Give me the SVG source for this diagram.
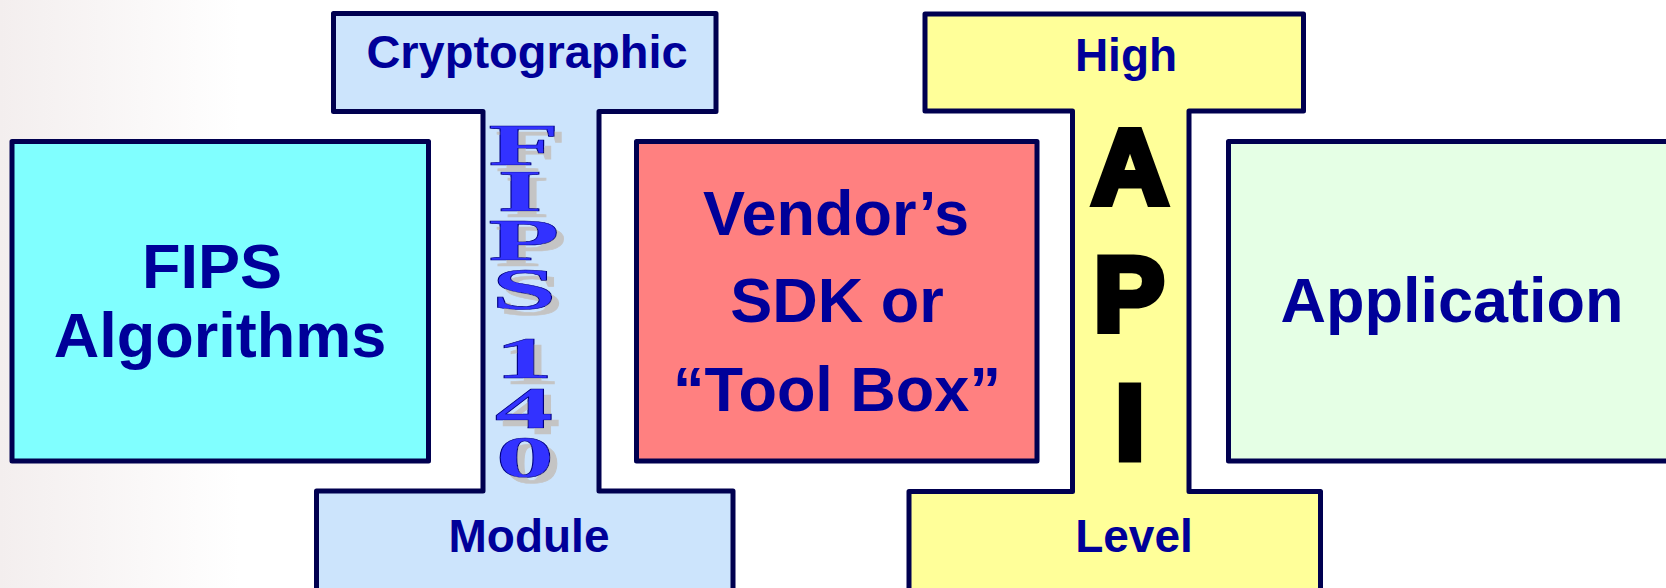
<svg xmlns="http://www.w3.org/2000/svg" width="1666" height="588" viewBox="0 0 1666 588">
<defs>
<linearGradient id="bg" x1="0" y1="0" x2="1" y2="0">
<stop offset="0" stop-color="#F3EEEE"/>
<stop offset="1" stop-color="#FFFFFF"/>
</linearGradient>
<filter id="shadow" x="-20%" y="-10%" width="160%" height="130%">
<feFlood flood-color="#C4C4C4" result="c"/>
<feComposite in="c" in2="SourceAlpha" operator="in" result="s"/>
<feOffset in="s" dx="3.6" dy="6" result="o"/>
<feMerge><feMergeNode in="o"/><feMergeNode in="SourceGraphic"/></feMerge>
</filter>
<style>
.frame{stroke:#000050;stroke-width:5;stroke-linejoin:round}
.lbl{font-family:"Liberation Sans",Arial,sans-serif;font-weight:bold;fill:#000099;text-anchor:middle}
.s46{font-size:46px}
.s63{font-size:63px}
.fips{font-family:"Liberation Serif","Times New Roman",serif;font-weight:bold;font-size:60px;text-anchor:middle;fill:#3333FF;stroke:#000080;stroke-width:0.6}
.api{font-family:"Liberation Sans",Arial,sans-serif;font-weight:bold;font-size:106px;fill:#000;stroke:#000;stroke-width:7;stroke-linejoin:miter;text-anchor:middle}
</style>
</defs>
<rect x="0" y="0" width="1666" height="588" fill="#FFFFFF"/>
<rect x="0" y="0" width="240" height="588" fill="url(#bg)"/>

<g id="crypto-module">
<path class="frame" fill="#CCE4FC" d="M333.5,13.5 H716 V111.5 H599 V491 H733 V600 H316.5 V491 H483 V111.5 H333.5 Z"/>
<text class="lbl" x="527" y="68" style="font-size:47px">Cryptographic</text>
<text class="lbl s46" x="529" y="552">Module</text>
<text id="fips140" class="fips" transform="scale(1.95,1)" filter="url(#shadow)"><tspan x="268.7" y="165">F</tspan><tspan x="266.7" y="211">I</tspan><tspan x="268.7" y="260">P</tspan><tspan x="268.7" y="309">S</tspan><tspan x="268.7" y="378">1</tspan><tspan x="268.7" y="428">4</tspan><tspan x="269.2" y="477">0</tspan></text>
</g>

<g id="api-level">
<path class="frame" fill="#FFFF99" d="M925,14 H1303.5 V111 H1189 V491.5 H1320.5 V600 H909 V491.5 H1072.5 V111 H925 Z"/>
<text class="lbl s46" x="1126" y="71">High</text>
<text class="lbl s46" x="1134" y="552">Level</text>
<text class="api" x="1130" y="204">A</text>
<text class="api" x="1129" y="331">P</text>
<text class="api" x="1130" y="459">I</text>
</g>

<g id="fips-algorithms">
<rect class="frame" fill="#80FFFF" x="12" y="141.5" width="416.5" height="319.5" stroke-linejoin="miter"/>
<text class="lbl s63" x="212" y="288">FIPS</text>
<text class="lbl s63" x="220" y="357">Algorithms</text>
</g>

<g id="vendor-sdk">
<rect class="frame" fill="#FF8080" x="636.5" y="141.5" width="400.5" height="319.5" stroke-linejoin="miter"/>
<text class="lbl s63" x="836" y="235">Vendor’s</text>
<text class="lbl s63" x="837" y="322">SDK or</text>
<text class="lbl s63" x="837" y="411">“Tool Box”</text>
</g>

<g id="application">
<rect class="frame" fill="#E5FFE5" x="1228.5" y="141.5" width="460" height="319.5" stroke-linejoin="miter"/>
<text class="lbl s63" x="1452" y="322">Application</text>
</g>

<g id="connectors"></g>
</svg>
